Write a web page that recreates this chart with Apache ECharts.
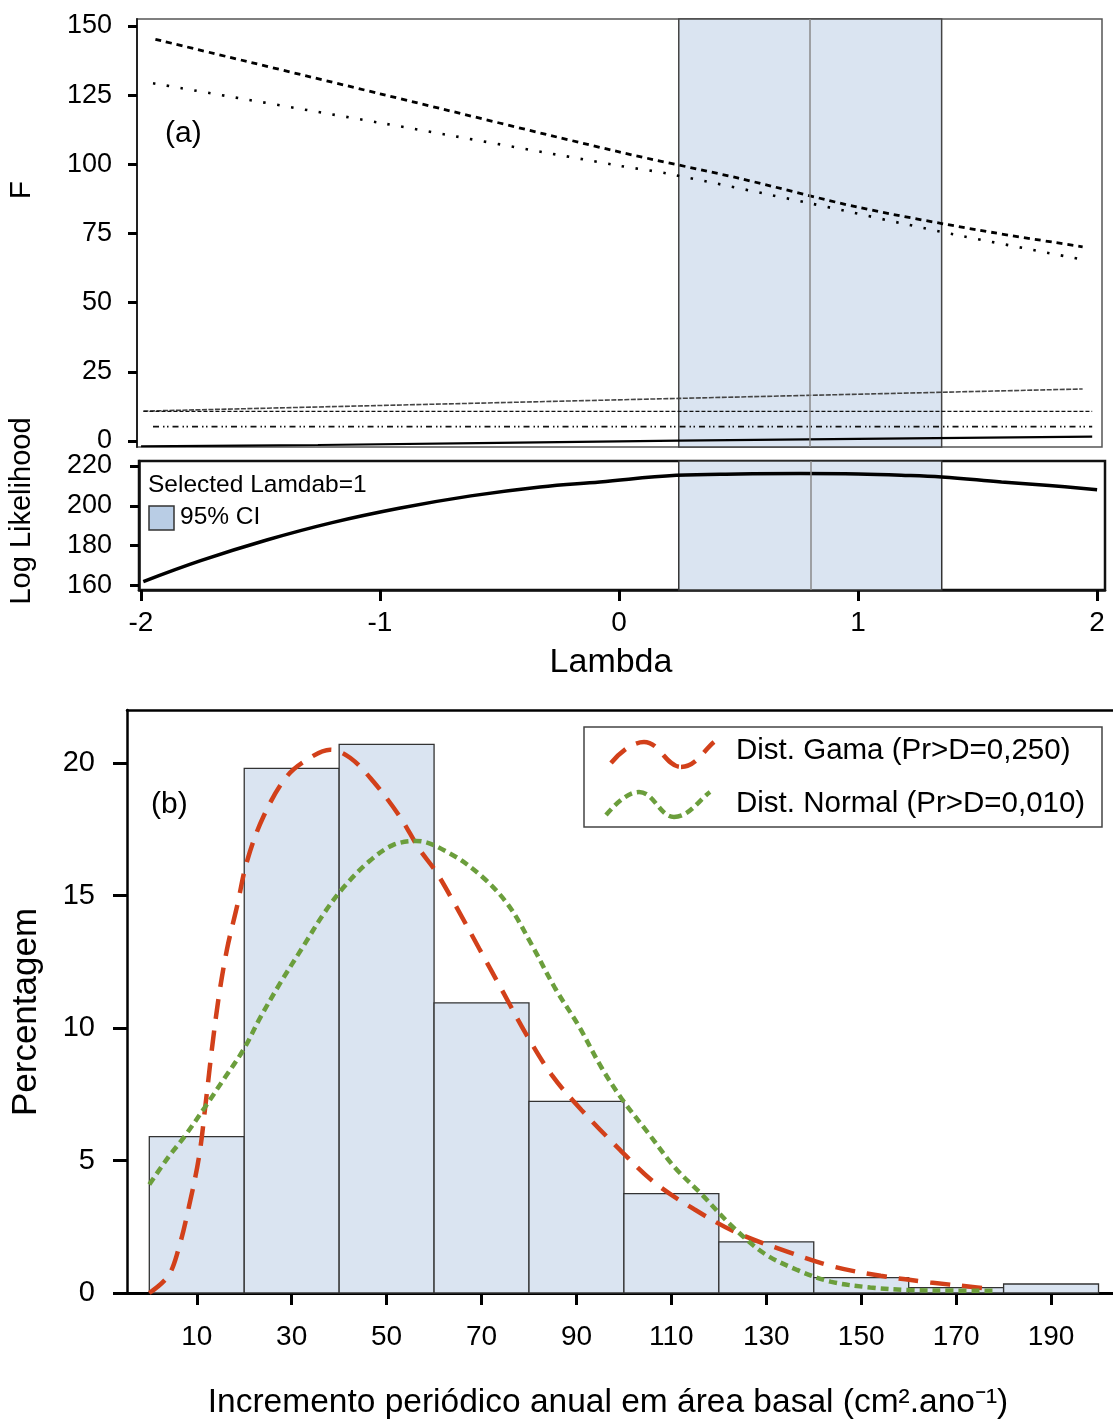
<!DOCTYPE html>
<html>
<head>
<meta charset="utf-8">
<script src="https://cdn.jsdelivr.net/npm/echarts@6/dist/echarts.min.js"></script>
<style>
  html, body { margin: 0; padding: 0; background: #fff; }
  #chart { width: 1113px; height: 1421px; }
</style>
</head>
<body>
<div id="chart"></div>
<script>
// ---------- (a) Box-Cox profile: F statistics against lambda ----------
const fDashed   = [[-1.94,145.2],[-1,125.5],[0,104.5],[0.5,95],[1,84.5],[1.5,76.3],[1.94,70.2]];
const fDotted   = [[-1.95,129.3],[-1,115],[0,99.5],[0.2,96.7],[0.8,85.9],[1.35,75.6],[1.95,65.4]];
const fRising   = [[-1.99,10.8],[0.25,15.4],[1.94,18.8]];
const fFlat     = [[-1.99,10.7],[1.98,10.7]];
const fDashDot  = [[-1.95,5.2],[1.98,5.2]];
const fSolid    = [[-2.0,-1.9],[-1.26,-1.45],[0.25,0.1],[1.98,1.55]];

// log likelihood profile
const logLik = [[-1.99,162],[-1.75,172.5],[-1.47,183],[-1.2,191.6],[-0.92,198.8],[-0.62,205],
                [-0.33,209.5],[-0.08,212],[0.24,215.3],[0.5,216],[0.76,216.2],[1.0,216],
                [1.18,215.4],[1.35,214.5],[1.6,212],[1.8,210.2],[2.0,208.1]];
const ciBounds  = [0.25, 1.35];
const lambdaHat = 0.80;

const fTicks      = [0, 25, 50, 75, 100, 125, 150];
const llTicks     = [160, 180, 200, 220];
const lambdaTicks = [-2, -1, 0, 1, 2];

// ---------- (b) histogram of basal-area increment with fitted densities ----------
const binEdges  = [0, 20, 40, 60, 80, 100, 120, 140, 160, 180, 200];
const pctValues = [5.9, 19.8, 20.7, 10.95, 7.23, 3.75, 1.93, 0.58, 0.2, 0.34];
const classMids = [10, 30, 50, 70, 90, 110, 130, 150, 170, 190];
const pctTicks  = [0, 5, 10, 15, 20];

const gammaFit = [[0,0],[3.9,0.62],[6,1.56],[8.4,3.3],[10.5,5.17],[11.9,7.2],[13.3,9.37],[14.7,11.25],
                  [16.4,13.0],[18.5,14.6],[20.6,16.3],[24.1,18.0],[29,19.5],[33.9,20.2],[38.1,20.5],
                  [42.3,20.2],[47.2,19.3],[52.7,18.0],[56.9,16.75],[60.4,15.9],[64.6,14.6],[69.5,13.0],
                  [74.4,11.4],[79.3,9.8],[84.9,8.2],[91.1,6.9],[98.8,5.47],[106.5,4.16],[114.9,3.15],
                  [123.5,2.3],[134.4,1.56],[144.3,0.99],[154.1,0.65],[164.6,0.40],[174.4,0.21],[177.9,0.14]];
const normalFit = [[0,4.09],[3.9,5.1],[7.4,5.9],[11.9,7.06],[15.7,8.07],[19.9,9.2],[23.4,10.4],[27.6,11.7],
                   [32.5,13.1],[36.7,14.3],[40.9,15.3],[46.4,16.3],[51.3,16.9],[56.2,17.06],[63.2,16.6],
                   [70.2,15.7],[75.8,14.6],[80.7,13.1],[85.5,11.5],[90.4,10.1],[95.3,8.5],[99.5,7.34],
                   [105.1,6.04],[110.7,4.74],[116.3,3.74],[122.5,2.57],[129.5,1.5],[136.5,0.87],
                   [143.5,0.43],[151.9,0.21],[160.4,0.11],[169.5,0.09],[177.9,0.08]];

const FONT = '"Liberation Sans", Arial, Helvetica, sans-serif';
const RED = '#d2401a';
const GREEN = '#6b9e3c';
const BAND = '#dae4f1';

const histData = pctValues.map((v, i) => [binEdges[i], binEdges[i + 1], v]);

const chart = echarts.init(document.getElementById('chart'), null, { renderer: 'canvas' });

const tickLabel = (size) => ({ color: '#000', fontSize: size, fontFamily: FONT });

const option = {
  animation: false,
  backgroundColor: '#fff',
  grid: [
    { left: 137, top: 19, width: 965, height: 428, show: true, borderColor: '#555', borderWidth: 1.5, backgroundColor: 'transparent' },
    { left: 139, top: 461, width: 966, height: 129, show: true, borderColor: '#111', borderWidth: 2.5, backgroundColor: 'transparent' },
    { left: 127, top: 710, width: 991, height: 583, show: false }
  ],
  xAxis: [
    { gridIndex: 0, type: 'value', min: -2.017, max: 2.021, show: false },
    { gridIndex: 1, type: 'value', min: -2.008, max: 2.033,
      axisLine: { show: true, onZero: false, lineStyle: { color: '#111', width: 2.5 } },
      axisTick: { show: true, length: 11, customValues: lambdaTicks, lineStyle: { color: '#000', width: 3 } },
      axisLabel: { show: true, margin: 19, customValues: lambdaTicks, ...tickLabel(28) },
      splitLine: { show: false } },
    { gridIndex: 2, type: 'value', min: -4.7, max: 203.05,
      axisLine: { show: true, onZero: false, lineStyle: { color: '#000', width: 3 } },
      axisTick: { show: true, length: 12, customValues: classMids, lineStyle: { color: '#000', width: 3 } },
      axisLabel: { show: true, margin: 30, customValues: classMids, ...tickLabel(28) },
      splitLine: { show: false } },
    { gridIndex: 2, type: 'value', position: 'top', min: -4.7, max: 203.05,
      axisLine: { show: true, onZero: false, lineStyle: { color: '#000', width: 2.5 } },
      axisTick: { show: false }, axisLabel: { show: false }, splitLine: { show: false } }
  ],
  yAxis: [
    { gridIndex: 0, type: 'value', min: -2.17, max: 152.53,
      axisLine: { show: true, onZero: false, lineStyle: { color: '#222', width: 2 } },
      axisTick: { show: true, length: 9, customValues: fTicks, lineStyle: { color: '#000', width: 3 } },
      axisLabel: { show: true, margin: 25, customValues: fTicks, ...tickLabel(27) },
      splitLine: { show: false } },
    { gridIndex: 1, type: 'value', min: 157.8, max: 222.5,
      axisLine: { show: true, onZero: false, lineStyle: { color: '#111', width: 2.5 } },
      axisTick: { show: true, length: 9, customValues: llTicks, lineStyle: { color: '#000', width: 3 } },
      axisLabel: { show: true, margin: 27, customValues: llTicks, ...tickLabel(27) },
      splitLine: { show: false } },
    { gridIndex: 2, type: 'value', min: 0, max: 22,
      axisLine: { show: true, onZero: false, lineStyle: { color: '#000', width: 2.5 } },
      axisTick: { show: true, length: 14, customValues: pctTicks, lineStyle: { color: '#000', width: 3 } },
      axisLabel: { show: true, margin: 32, customValues: pctTicks, ...tickLabel(29) },
      splitLine: { show: false } }
  ],
  series: [
    // panel (a), F statistics
    { type: 'line', xAxisIndex: 0, yAxisIndex: 0, data: fDashed, showSymbol: false, smooth: 0.3,
      lineStyle: { color: '#000', width: 2.8, type: [6, 5] },
      markArea: { silent: true, data: [[{ xAxis: ciBounds[0] }, { xAxis: ciBounds[1] }]],
        itemStyle: { color: BAND, borderColor: '#444', borderWidth: 1.5 } },
      markLine: { silent: true, symbol: 'none', label: { show: false },
        lineStyle: { color: '#8a8a8a', width: 1.5, type: 'solid' }, data: [{ xAxis: lambdaHat }] } },
    { type: 'line', xAxisIndex: 0, yAxisIndex: 0, data: fDotted, showSymbol: false, smooth: 0.3,
      lineStyle: { color: '#000', width: 2.6, type: [2.5, 11.5] } },
    { type: 'line', xAxisIndex: 0, yAxisIndex: 0, data: fRising, showSymbol: false,
      lineStyle: { color: '#444', width: 1.6, type: [5, 1.5] } },
    { type: 'line', xAxisIndex: 0, yAxisIndex: 0, data: fFlat, showSymbol: false,
      lineStyle: { color: '#111', width: 1.4, type: [4, 2] } },
    { type: 'line', xAxisIndex: 0, yAxisIndex: 0, data: fDashDot, showSymbol: false,
      lineStyle: { color: '#111', width: 1.6, type: [6, 4, 1.5, 2.5, 1.5, 4] } },
    { type: 'line', xAxisIndex: 0, yAxisIndex: 0, data: fSolid, showSymbol: false, smooth: 0.3,
      lineStyle: { color: '#000', width: 2.2 } },
    // panel (a), log likelihood
    { type: 'line', xAxisIndex: 1, yAxisIndex: 1, data: logLik, showSymbol: false, smooth: 0.4,
      lineStyle: { color: '#000', width: 3.5 },
      markArea: { silent: true, data: [[{ xAxis: ciBounds[0] }, { xAxis: ciBounds[1] }]],
        itemStyle: { color: BAND, borderColor: '#333', borderWidth: 1.5 } },
      markLine: { silent: true, symbol: 'none', label: { show: false },
        lineStyle: { color: '#8a8a8a', width: 1.5, type: 'solid' }, data: [{ xAxis: lambdaHat }] } },
    // panel (b), histogram
    { type: 'custom', xAxisIndex: 2, yAxisIndex: 2, data: histData,
      encode: { x: [0, 1], y: 2 },
      renderItem: function (params, api) {
        const p0 = api.coord([api.value(0), 0]);
        const p1 = api.coord([api.value(1), api.value(2)]);
        return {
          type: 'rect',
          shape: { x: p0[0], y: p1[1], width: p1[0] - p0[0], height: p0[1] - p1[1] },
          style: { fill: BAND, stroke: '#333', lineWidth: 1.3 }
        };
      } },
    { type: 'line', xAxisIndex: 2, yAxisIndex: 2, data: gammaFit, showSymbol: false, smooth: 0.35, z: 4,
      lineStyle: { color: RED, width: 4.5, type: [20, 12] } },
    { type: 'line', xAxisIndex: 2, yAxisIndex: 2, data: normalFit, showSymbol: false, smooth: 0.35, z: 4,
      lineStyle: { color: GREEN, width: 4.5, type: [8, 5] } }
  ],
  graphic: [
    // axis titles
    { type: 'text', x: 22, y: 190, rotation: Math.PI / 2,
      style: { text: 'F', font: '30px ' + FONT, fill: '#000', textAlign: 'center', textVerticalAlign: 'middle' } },
    { type: 'text', x: 22, y: 511, rotation: Math.PI / 2,
      style: { text: 'Log Likelihood', font: '29px ' + FONT, fill: '#000', textAlign: 'center', textVerticalAlign: 'middle' } },
    { type: 'text', x: 611, y: 663,
      style: { text: 'Lambda', font: '34px ' + FONT, fill: '#000', textAlign: 'center', textVerticalAlign: 'middle' } },
    { type: 'text', x: 26, y: 1012, rotation: Math.PI / 2,
      style: { text: 'Percentagem', font: '35px ' + FONT, fill: '#000', textAlign: 'center', textVerticalAlign: 'middle' } },
    { type: 'text', x: 608, y: 1403,
      style: { text: 'Incremento periódico anual em área basal (cm².ano⁻¹)', font: '33.5px ' + FONT, fill: '#000', textAlign: 'center', textVerticalAlign: 'middle' } },
    // panel tags
    { type: 'text', x: 165, y: 134,
      style: { text: '(a)', font: '30px ' + FONT, fill: '#000', textAlign: 'left', textVerticalAlign: 'middle' } },
    { type: 'text', x: 151, y: 805,
      style: { text: '(b)', font: '30px ' + FONT, fill: '#000', textAlign: 'left', textVerticalAlign: 'middle' } },
    // key of the log-likelihood panel
    { type: 'text', x: 148, y: 485, z: 10,
      style: { text: 'Selected Lamdab=1', font: '24.5px ' + FONT, fill: '#000', textAlign: 'left', textVerticalAlign: 'middle' } },
    { type: 'rect', z: 10, shape: { x: 149, y: 506, width: 25, height: 24 },
      style: { fill: '#b9cde5', stroke: '#333', lineWidth: 1.5 } },
    { type: 'text', x: 180, y: 517, z: 10,
      style: { text: '95% CI', font: '24.5px ' + FONT, fill: '#000', textAlign: 'left', textVerticalAlign: 'middle' } },
    // key of panel (b)
    { type: 'rect', z: 10, shape: { x: 584, y: 727, width: 518, height: 100 },
      style: { fill: '#fff', stroke: '#444', lineWidth: 1.5 } },
    { type: 'bezierCurve', z: 11, shape: { x1: 611, y1: 763, cpx1: 622, cpy1: 750, cpx2: 634, cpy2: 742, x2: 644, y2: 742 },
      style: { stroke: RED, lineWidth: 4.5, lineDash: [20, 12], fill: null } },
    { type: 'bezierCurve', z: 11, shape: { x1: 644, y1: 742, cpx1: 660, cpy1: 742, cpx2: 666, cpy2: 767, x2: 681, y2: 767 },
      style: { stroke: RED, lineWidth: 4.5, lineDash: [20, 12], lineDashOffset: 8, fill: null } },
    { type: 'bezierCurve', z: 11, shape: { x1: 681, y1: 767, cpx1: 696, cpy1: 767, cpx2: 704, cpy2: 750, x2: 714, y2: 742 },
      style: { stroke: RED, lineWidth: 4.5, lineDash: [20, 12], lineDashOffset: 4, fill: null } },
    { type: 'bezierCurve', z: 11, shape: { x1: 606, y1: 815, cpx1: 617, cpy1: 802, cpx2: 629, cpy2: 792, x2: 639, y2: 792 },
      style: { stroke: GREEN, lineWidth: 4.5, lineDash: [8, 5], fill: null } },
    { type: 'bezierCurve', z: 11, shape: { x1: 639, y1: 792, cpx1: 654, cpy1: 792, cpx2: 660, cpy2: 817, x2: 674, y2: 817 },
      style: { stroke: GREEN, lineWidth: 4.5, lineDash: [8, 5], fill: null } },
    { type: 'bezierCurve', z: 11, shape: { x1: 674, y1: 817, cpx1: 689, cpy1: 817, cpx2: 699, cpy2: 800, x2: 710, y2: 792 },
      style: { stroke: GREEN, lineWidth: 4.5, lineDash: [8, 5], fill: null } },
    { type: 'text', x: 736, y: 751, z: 11,
      style: { text: 'Dist. Gama (Pr>D=0,250)', font: '29.5px ' + FONT, fill: '#000', textAlign: 'left', textVerticalAlign: 'middle' } },
    { type: 'text', x: 736, y: 804, z: 11,
      style: { text: 'Dist. Normal (Pr>D=0,010)', font: '29.5px ' + FONT, fill: '#000', textAlign: 'left', textVerticalAlign: 'middle' } }
  ]
};

chart.setOption(option);
</script>
</body>
</html>
